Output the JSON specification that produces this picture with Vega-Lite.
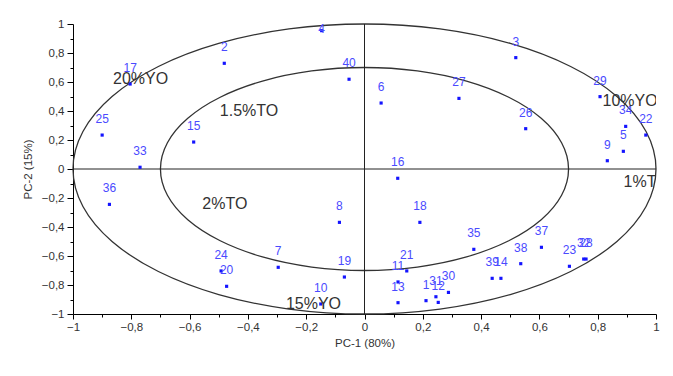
{
  "$schema": "https://vega.github.io/schema/vega-lite/v6.json",
  "width": 583,
  "height": 290,
  "autosize": "none",
  "padding": {"left": 73, "top": 24, "right": 17, "bottom": 62},
  "background": "white",
  "config": {
    "view": {"stroke": null},
    "font": "Liberation Sans",
    "axis": {
      "grid": false,
      "domainColor": "black",
      "domainWidth": 1,
      "tickColor": "black",
      "labelColor": "#333333",
      "labelFontSize": 11.5,
      "titleFontSize": 11.5,
      "titleFontWeight": "normal",
      "titleColor": "#333333",
      "labelFlush": false,
      "labelOverlap": false
    }
  },
  "datasets": {
    "pts": [
      {"id": "1", "x": 0.211, "y": -0.908},
      {"id": "2", "x": -0.481, "y": 0.729},
      {"id": "3", "x": 0.519, "y": 0.768},
      {"id": "4", "x": -0.147, "y": 0.954},
      {"id": "5", "x": 0.888, "y": 0.122},
      {"id": "6", "x": 0.057, "y": 0.455},
      {"id": "7", "x": -0.296, "y": -0.678},
      {"id": "8", "x": -0.086, "y": -0.368},
      {"id": "9", "x": 0.833, "y": 0.057},
      {"id": "10", "x": -0.15, "y": -0.931},
      {"id": "11", "x": 0.115, "y": -0.779},
      {"id": "12", "x": 0.253, "y": -0.92},
      {"id": "13", "x": 0.115, "y": -0.922},
      {"id": "14", "x": 0.468, "y": -0.754},
      {"id": "15", "x": -0.586, "y": 0.186},
      {"id": "16", "x": 0.114, "y": -0.064},
      {"id": "17", "x": -0.804, "y": 0.586},
      {"id": "18", "x": 0.19, "y": -0.368},
      {"id": "19", "x": -0.069, "y": -0.745},
      {"id": "20", "x": -0.473, "y": -0.809},
      {"id": "21", "x": 0.145, "y": -0.703},
      {"id": "22", "x": 0.965, "y": 0.234},
      {"id": "23", "x": 0.703, "y": -0.671},
      {"id": "24", "x": -0.492, "y": -0.703},
      {"id": "25", "x": -0.9, "y": 0.234},
      {"id": "26", "x": 0.553, "y": 0.278},
      {"id": "27", "x": 0.324, "y": 0.487},
      {"id": "28", "x": 0.76, "y": -0.621},
      {"id": "29", "x": 0.808, "y": 0.499},
      {"id": "30", "x": 0.288, "y": -0.851},
      {"id": "31", "x": 0.245, "y": -0.881},
      {"id": "32", "x": 0.752, "y": -0.621},
      {"id": "33", "x": -0.77, "y": 0.012},
      {"id": "34", "x": 0.896, "y": 0.294},
      {"id": "35", "x": 0.375, "y": -0.554},
      {"id": "36", "x": -0.875, "y": -0.244},
      {"id": "37", "x": 0.607, "y": -0.54},
      {"id": "38", "x": 0.536, "y": -0.653},
      {"id": "39", "x": 0.438, "y": -0.754},
      {"id": "40", "x": -0.053, "y": 0.619}
    ],
    "circles": [
      {"c": "outer", "i": 0, "x": 1, "y": 0},
      {"c": "outer", "i": 1, "x": 0.9659, "y": 0.2588},
      {"c": "outer", "i": 2, "x": 0.866, "y": 0.5},
      {"c": "outer", "i": 3, "x": 0.7071, "y": 0.7071},
      {"c": "outer", "i": 4, "x": 0.5, "y": 0.866},
      {"c": "outer", "i": 5, "x": 0.2588, "y": 0.9659},
      {"c": "outer", "i": 6, "x": 0, "y": 1},
      {"c": "outer", "i": 7, "x": -0.2588, "y": 0.9659},
      {"c": "outer", "i": 8, "x": -0.5, "y": 0.866},
      {"c": "outer", "i": 9, "x": -0.7071, "y": 0.7071},
      {"c": "outer", "i": 10, "x": -0.866, "y": 0.5},
      {"c": "outer", "i": 11, "x": -0.9659, "y": 0.2588},
      {"c": "outer", "i": 12, "x": -1, "y": 0},
      {"c": "outer", "i": 13, "x": -0.9659, "y": -0.2588},
      {"c": "outer", "i": 14, "x": -0.866, "y": -0.5},
      {"c": "outer", "i": 15, "x": -0.7071, "y": -0.7071},
      {"c": "outer", "i": 16, "x": -0.5, "y": -0.866},
      {"c": "outer", "i": 17, "x": -0.2588, "y": -0.9659},
      {"c": "outer", "i": 18, "x": 0, "y": -1},
      {"c": "outer", "i": 19, "x": 0.2588, "y": -0.9659},
      {"c": "outer", "i": 20, "x": 0.5, "y": -0.866},
      {"c": "outer", "i": 21, "x": 0.7071, "y": -0.7071},
      {"c": "outer", "i": 22, "x": 0.866, "y": -0.5},
      {"c": "outer", "i": 23, "x": 0.9659, "y": -0.2588},
      {"c": "inner", "i": 0, "x": 0.7, "y": 0},
      {"c": "inner", "i": 1, "x": 0.6761, "y": 0.1812},
      {"c": "inner", "i": 2, "x": 0.6062, "y": 0.35},
      {"c": "inner", "i": 3, "x": 0.495, "y": 0.495},
      {"c": "inner", "i": 4, "x": 0.35, "y": 0.6062},
      {"c": "inner", "i": 5, "x": 0.1812, "y": 0.6761},
      {"c": "inner", "i": 6, "x": 0, "y": 0.7},
      {"c": "inner", "i": 7, "x": -0.1812, "y": 0.6761},
      {"c": "inner", "i": 8, "x": -0.35, "y": 0.6062},
      {"c": "inner", "i": 9, "x": -0.495, "y": 0.495},
      {"c": "inner", "i": 10, "x": -0.6062, "y": 0.35},
      {"c": "inner", "i": 11, "x": -0.6761, "y": 0.1812},
      {"c": "inner", "i": 12, "x": -0.7, "y": 0},
      {"c": "inner", "i": 13, "x": -0.6761, "y": -0.1812},
      {"c": "inner", "i": 14, "x": -0.6062, "y": -0.35},
      {"c": "inner", "i": 15, "x": -0.495, "y": -0.495},
      {"c": "inner", "i": 16, "x": -0.35, "y": -0.6062},
      {"c": "inner", "i": 17, "x": -0.1812, "y": -0.6761},
      {"c": "inner", "i": 18, "x": 0, "y": -0.7},
      {"c": "inner", "i": 19, "x": 0.1812, "y": -0.6761},
      {"c": "inner", "i": 20, "x": 0.35, "y": -0.6062},
      {"c": "inner", "i": 21, "x": 0.495, "y": -0.495},
      {"c": "inner", "i": 22, "x": 0.6062, "y": -0.35},
      {"c": "inner", "i": 23, "x": 0.6761, "y": -0.1812}
    ],
    "regions": [
      {"t": "20%YO", "x": -0.768, "y": 0.621},
      {"t": "1.5%TO", "x": -0.396, "y": 0.4},
      {"t": "2%TO", "x": -0.479, "y": -0.241},
      {"t": "15%YO", "x": -0.175, "y": -0.931},
      {"t": "10%YO", "x": 0.911, "y": 0.466},
      {"t": "1%TO", "x": 0.966, "y": -0.093}
    ],
    "cross": [
      {"x": -1, "y": 0, "x2": 1, "y2": 0},
      {"x": 0, "y": -1, "x2": 0, "y2": 1}
    ]
  },
  "encoding": {
    "x": {
      "field": "x",
      "type": "quantitative",
      "scale": {"domain": [-1, 1], "nice": false, "zero": false},
      "axis": {
        "title": "PC-1 (80%)",
        "values": [-1, -0.9, -0.8, -0.7, -0.6, -0.5, -0.4, -0.3, -0.2, -0.1, 0, 0.1, 0.2, 0.3, 0.4, 0.5, 0.6, 0.7, 0.8, 0.9, 1],
        "labelExpr": "round(datum.value*10) % 2 != 0 ? '' : replace(format(datum.value, '.1~f'), '.', ',')",
        "tickSize": {"condition": {"test": "round(datum.value*10) % 2 != 0", "value": 3}, "value": 5},
        "labelPadding": 2,
        "titlePadding": 5
      }
    },
    "y": {
      "field": "y",
      "type": "quantitative",
      "scale": {"domain": [-1, 1], "nice": false, "zero": false},
      "axis": {
        "title": "PC-2 (15%)",
        "values": [-1, -0.9, -0.8, -0.7, -0.6, -0.5, -0.4, -0.3, -0.2, -0.1, 0, 0.1, 0.2, 0.3, 0.4, 0.5, 0.6, 0.7, 0.8, 0.9, 1],
        "labelExpr": "round(datum.value*10) % 2 != 0 ? '' : replace(format(datum.value, '.1~f'), '.', ',')",
        "tickSize": {"condition": {"test": "round(datum.value*10) % 2 != 0", "value": 3}, "value": 6},
        "labelPadding": 3,
        "titlePadding": 8
      }
    }
  },
  "layer": [
    {
      "data": {"name": "circles"},
      "mark": {"type": "line", "interpolate": "cardinal-closed", "color": "#333333", "strokeWidth": 1.3},
      "encoding": {
        "detail": {"field": "c"},
        "order": {"field": "i", "type": "quantitative"}
      }
    },
    {
      "data": {"name": "cross"},
      "mark": {"type": "rule", "color": "#222222", "strokeWidth": 1},
      "encoding": {
        "x2": {"field": "x2"},
        "y2": {"field": "y2"}
      }
    },
    {
      "data": {"name": "pts"},
      "mark": {"type": "square", "size": 10, "filled": true, "color": "#1414ff", "opacity": 1},
      "encoding": {}
    },
    {
      "data": {"name": "pts"},
      "transform": [{"filter": "datum.id != '4'"}],
      "mark": {"type": "text", "dy": -16, "fontSize": 12, "color": "#4a4aff", "baseline": "middle", "align": "center"},
      "encoding": {"text": {"field": "id"}}
    },
    {
      "data": {"name": "pts"},
      "transform": [{"filter": "datum.id == '4'"}],
      "mark": {"type": "text", "dy": -2, "fontSize": 12, "color": "#4a4aff", "baseline": "middle", "align": "center"},
      "encoding": {"text": {"field": "id"}}
    },
    {
      "data": {"name": "regions"},
      "mark": {"type": "text", "fontSize": 16, "color": "#333333", "baseline": "middle", "align": "center", "clip": true},
      "encoding": {"text": {"field": "t"}}
    }
  ]
}
